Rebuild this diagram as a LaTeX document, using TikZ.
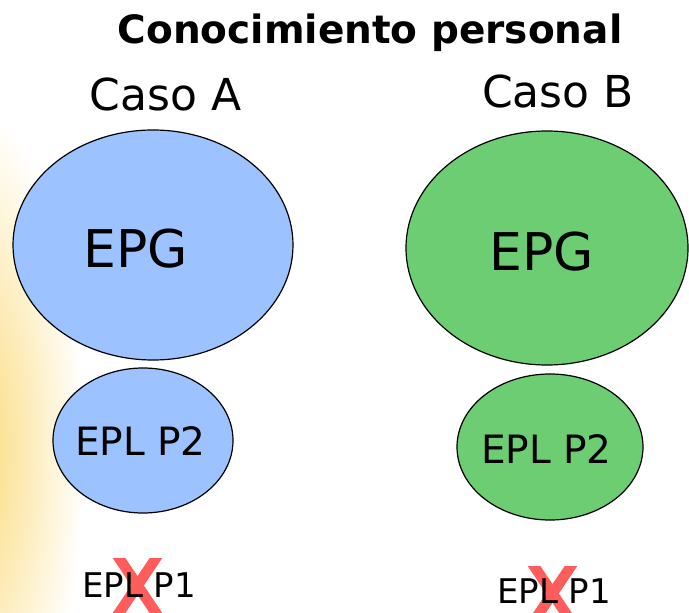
\documentclass[tikz,border=0pt]{standalone}
\usepackage{fontspec}
\setmainfont{DejaVu Sans}
\definecolor{blueA}{RGB}{156,195,255}
\definecolor{greenB}{RGB}{108,205,114}
\definecolor{xred}{RGB}{255,92,92}
\definecolor{glow}{RGB}{251,218,120}
\tikzset{
  bubble/.style={draw=black, line width=1.2pt},
  lbl/.style={inner sep=0pt, anchor=base, text=black},
  xmark/.style={draw=xred, line width=10.5pt},
}
\newcommand{\fs}[1]{\fontsize{#1}{#1}\selectfont}
\begin{document}
\begin{tikzpicture}[x=1pt, y=-1pt]
\useasboundingbox (0,0) rectangle (689,613);
\fill[white] (0,0) rectangle (689,613);
% left-edge glow
\begin{scope}
\clip (0,0) rectangle (689,613);
\shade[inner color=glow, outer color=white] (-25,450) ellipse [x radius=110pt, y radius=340pt];
\end{scope}
% ellipses
\path[bubble, fill=blueA] (153,245) ellipse [x radius=140pt, y radius=115pt];
\path[bubble, fill=blueA] (143,440.5) ellipse [x radius=90pt, y radius=72.5pt];
\path[bubble, fill=greenB] (547,248) ellipse [x radius=141pt, y radius=117pt];
\path[bubble, fill=greenB] (550,447) ellipse [x radius=93pt, y radius=73pt];
% red crosses
\begin{scope}
\clip (100,558) rectangle (175,613);
\draw[xmark] (115,552) -- (160,619);
\draw[xmark] (160,552) -- (115,619);
\end{scope}
\begin{scope}
\clip (515,566) rectangle (590,613);
\draw[xmark] (530,560) -- (575,627);
\draw[xmark] (575,560) -- (530,627);
\end{scope}
% texts
\node[lbl, font=\bfseries\fs{39}] (title) at (370,43) {Conocimiento personal};
\node[lbl, font=\fs{44}] (casoA) at (165.5,110) {Caso A};
\node[lbl, font=\fs{44}] (casoB) at (558,107) {Caso B};
\node[lbl, font=\fs{52}] (epgA) at (135.5,267) {EPG};
\node[lbl, font=\fs{52}] (epgB) at (542,270) {EPG};
\node[lbl, font=\fs{39}] (eplA) at (140.5,455) {EPL P2};
\node[lbl, font=\fs{39}] (eplB) at (546.5,463) {EPL P2};
\node[lbl, font=\fs{34}] (p1A) at (139,597) {EPL P1};
\node[lbl, font=\fs{34}] (p1B) at (554,603) {EPL P1};
\end{tikzpicture}
\end{document}
